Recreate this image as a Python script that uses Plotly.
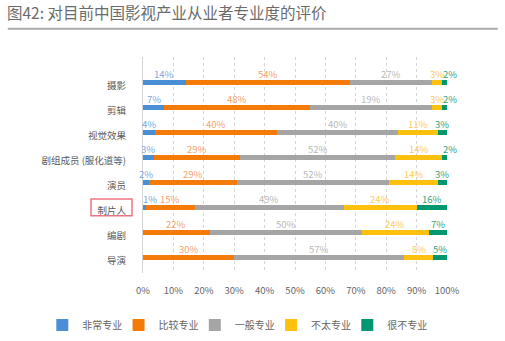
import plotly.graph_objects as go

categories = ["摄影", "剪辑", "视觉效果", "剧组成员 (服化道等)", "演员", "制片人", "编剧", "导演"]
series_names = ["非常专业", "比较专业", "一般专业", "不太专业", "很不专业"]

v_very = [14, 7, 4, 3.5, 2, 1, 0, 0]
v_fairly = [54, 48, 40, 28.5, 29, 16, 22, 30]
v_average = [27, 40, 40, 51, 50, 49, 50, 56]
v_not_very = [3.5, 3.5, 13, 15.5, 16, 24, 22, 9.5]
v_not_at_all = [1.5, 1.5, 3, 1.5, 3, 10, 6, 4.5]

l_very = ["14%", "7%", "4%", "3%", "2%", "1%", "", ""]
l_fairly = ["54%", "48%", "40%", "29%", "29%", "15%", "22%", "30%"]
l_average = ["27%", "19%", "40%", "52%", "52%", "49%", "50%", "57%"]
l_not_very = ["3%", "3%", "11%", "14%", "14%", "24%", "24%", "8%"]
l_not_at_all = ["2%", "2%", "3%", "2%", "3%", "16%", "7%", "5%"]

x_ticks = [0, 10, 20, 30, 40, 50, 60, 70, 80, 90, 100]
x_tick_labels = ["0%", "10%", "20%", "30%", "40%", "50%", "60%", "70%", "80%", "90%", "100%"]

title_text = "图42: 对目前中国影视产业从业者专业度的评价"

series_values = [v_very, v_fairly, v_average, v_not_very, v_not_at_all]
series_labels = [l_very, l_fairly, l_average, l_not_very, l_not_at_all]
bar_colors = ["#4a8fd5", "#f47a0a", "#a5a5a5", "#fec00f", "#00996f"]
label_colors = ["#78abe0", "#f5a26c", "#b9b9b9", "#fdcb5e", "#2fa683"]

FONT = "Noto Sans CJK SC, Noto Sans, sans-serif"
W, H = 505, 341
ML, MR, MT, MB = 142.7, 58.3, 57, 68  # plot area 142.7..446.7 x, 57..273 y
PW = W - ML - MR
PH = H - MT - MB


def px_to_paper_x(px):
    return (px - ML) / PW


def px_to_paper_y(py):
    return (H - MB - py) / PH


legend_ids = ["legend", "legend2", "legend3", "legend4", "legend5"]

fig = go.Figure()
for k, (name, vals, col) in enumerate(zip(series_names, series_values, bar_colors)):
    fig.add_trace(go.Bar(
        y=categories, x=vals, name=name, orientation="h",
        marker=dict(color=col, line=dict(width=0)), width=0.18,
        hoverinfo="skip", legend=legend_ids[k],
    ))

annotations = []
cum = [0.0] * len(categories)
for vals, labs, lcol in zip(series_values, series_labels, label_colors):
    for i, cat in enumerate(categories):
        if labs[i]:
            annotations.append(dict(
                x=cum[i] + vals[i] / 2, y=cat, xref="x", yref="y",
                text=labs[i], showarrow=False, yshift=8.5,
                xshift=5 if vals[i] < 2 else 0,
                font=dict(size=9.5, color=lcol, family=FONT),
            ))
        cum[i] += vals[i]

shapes = [
    # title underline
    dict(type="line", xref="paper", yref="paper",
         x0=px_to_paper_x(7.5), x1=px_to_paper_x(497.5),
         y0=px_to_paper_y(28.7), y1=px_to_paper_y(28.7),
         line=dict(color="#ababab", width=2)),
    # highlight box around 制片人
    dict(type="rect", xref="paper", yref="paper",
         x0=px_to_paper_x(90.7), x1=px_to_paper_x(131.7),
         y0=px_to_paper_y(215.7), y1=px_to_paper_y(199),
         line=dict(color="#ec7584", width=1.5), fillcolor="rgba(0,0,0,0)"),
]

row0_px = 82.7
band = 25.0
y_top_idx = (MT - row0_px) / band
y_bot_idx = (H - MB - row0_px) / band

legend_layout = {}
for k, lid in enumerate(legend_ids):
    legend_layout[lid] = dict(
        orientation="h", xref="paper", yref="paper",
        x=px_to_paper_x(42 + 76.25 * k), y=px_to_paper_y(325),
        xanchor="left", yanchor="middle",
        font=dict(size=10, color="#666666", family=FONT),
        itemclick=False, itemdoubleclick=False,
        bgcolor="rgba(0,0,0,0)",
    )

fig.update_layout(
    width=W, height=H,
    margin=dict(l=ML, r=MR, t=MT, b=MB, pad=0, autoexpand=False),
    paper_bgcolor="white", plot_bgcolor="white",
    barmode="stack", bargap=0.8,
    font=dict(family=FONT, color="#666666", size=10),
    title=dict(text=title_text, xref="container", yref="container",
               x=7 / W, y=1 - 13.5 / H, xanchor="left", yanchor="middle",
               font=dict(size=15.5, color="#6b6b6b", family=FONT)),
    xaxis=dict(range=[0, 100], tickvals=x_ticks, ticktext=x_tick_labels,
               showgrid=True, gridcolor="#d5d5d5", griddash="3px,3px", gridwidth=1,
               zeroline=False, showline=False, ticks="", automargin=False,
               tickfont=dict(size=9.5, color="#666666"), ticklabelstandoff=10,
               fixedrange=True),
    yaxis=dict(categoryorder="array", categoryarray=categories,
               range=[y_bot_idx, y_top_idx], automargin=False,
               showgrid=False, zeroline=False, showline=True, linecolor="#d5d5d5",
               linewidth=1, ticks="", ticklabelstandoff=14, ticklabelshift=-3,
               tickfont=dict(size=9.5, color="#5a5a5a")),
    showlegend=True,
    annotations=annotations,
    shapes=shapes,
    **legend_layout,
)

fig.write_html("out.html")
